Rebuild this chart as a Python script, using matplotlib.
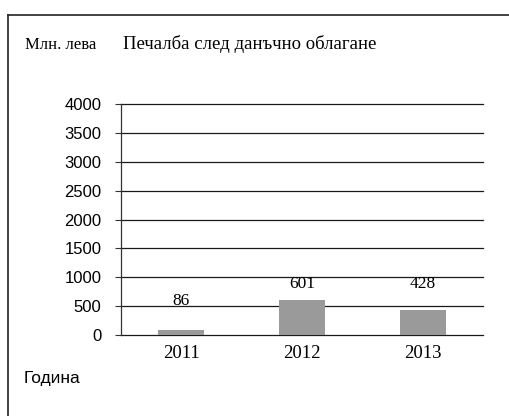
import matplotlib
matplotlib.use("Agg")
import matplotlib.pyplot as plt
from matplotlib.lines import Line2D

years = ["2011", "2012", "2013"]
profit = [86, 601, 428]
yticks = [0, 500, 1000, 1500, 2000, 2500, 3000, 3500, 4000]

W, H = 510, 416
fig = plt.figure(figsize=(W / 100, H / 100), dpi=100)
fig.patch.set_facecolor("white")

# axes: x 121..483, y 104..335 (pixels)
ax = fig.add_axes([121 / W, 1 - 335 / H, (483 - 121) / W, (335 - 104) / H])
ax.set_facecolor("white")

x = range(len(years))
ax.bar(x, profit, width=0.38, color="#9a9a9a", edgecolor="none", zorder=3)

ax.set_ylim(0, 4000)
ax.set_xlim(-0.5, len(years) - 0.5)
ax.set_yticks(yticks)
ax.set_yticklabels([str(t) for t in yticks], family="Liberation Sans", fontsize=12)
ax.yaxis.grid(True, color="#1a1a1a", linewidth=0.9)
for gl in ax.get_ygridlines():
    gl.set_clip_on(False)
ax.set_axisbelow(True)
ax.set_xticks(list(x))
ax.set_xticklabels(years, family="Liberation Serif", fontsize=13.5)
ax.tick_params(axis="x", length=0, pad=7)
ax.tick_params(axis="y", length=4, width=0.8, color="#333333", pad=10)

for s in ["top", "right", "bottom"]:
    ax.spines[s].set_visible(False)
ax.spines["left"].set_color("#333333")
ax.spines["left"].set_linewidth(0.9)

label_offsets = [505, 290, 460]
for xi, v, off in zip(x, profit, label_offsets):
    ax.text(xi, v + off, str(v), ha="center", va="center",
            family="Liberation Serif", fontsize=12.5, zorder=4)

fig.text(25 / W, 1 - 45 / H, "Млн. лева", family="Liberation Serif",
         fontsize=12, va="center", ha="left")
fig.text(123 / W, 1 - 44 / H, "Печалба след данъчно облагане",
         family="Liberation Serif", fontsize=13.5, va="center", ha="left")
fig.text(24 / W, 1 - 378 / H, "Година", family="Liberation Sans",
         fontsize=12.5, va="center", ha="left")

# page border (top and left)
fig.add_artist(Line2D([8 / W, 1], [1 - 15 / H, 1 - 15 / H], color="#222222",
                      linewidth=1.2, transform=fig.transFigure))
fig.add_artist(Line2D([8 / W, 8 / W], [0, 1 - 15 / H], color="#222222",
                      linewidth=1.2, transform=fig.transFigure))

fig.savefig("out.png", dpi=100, facecolor="white")
